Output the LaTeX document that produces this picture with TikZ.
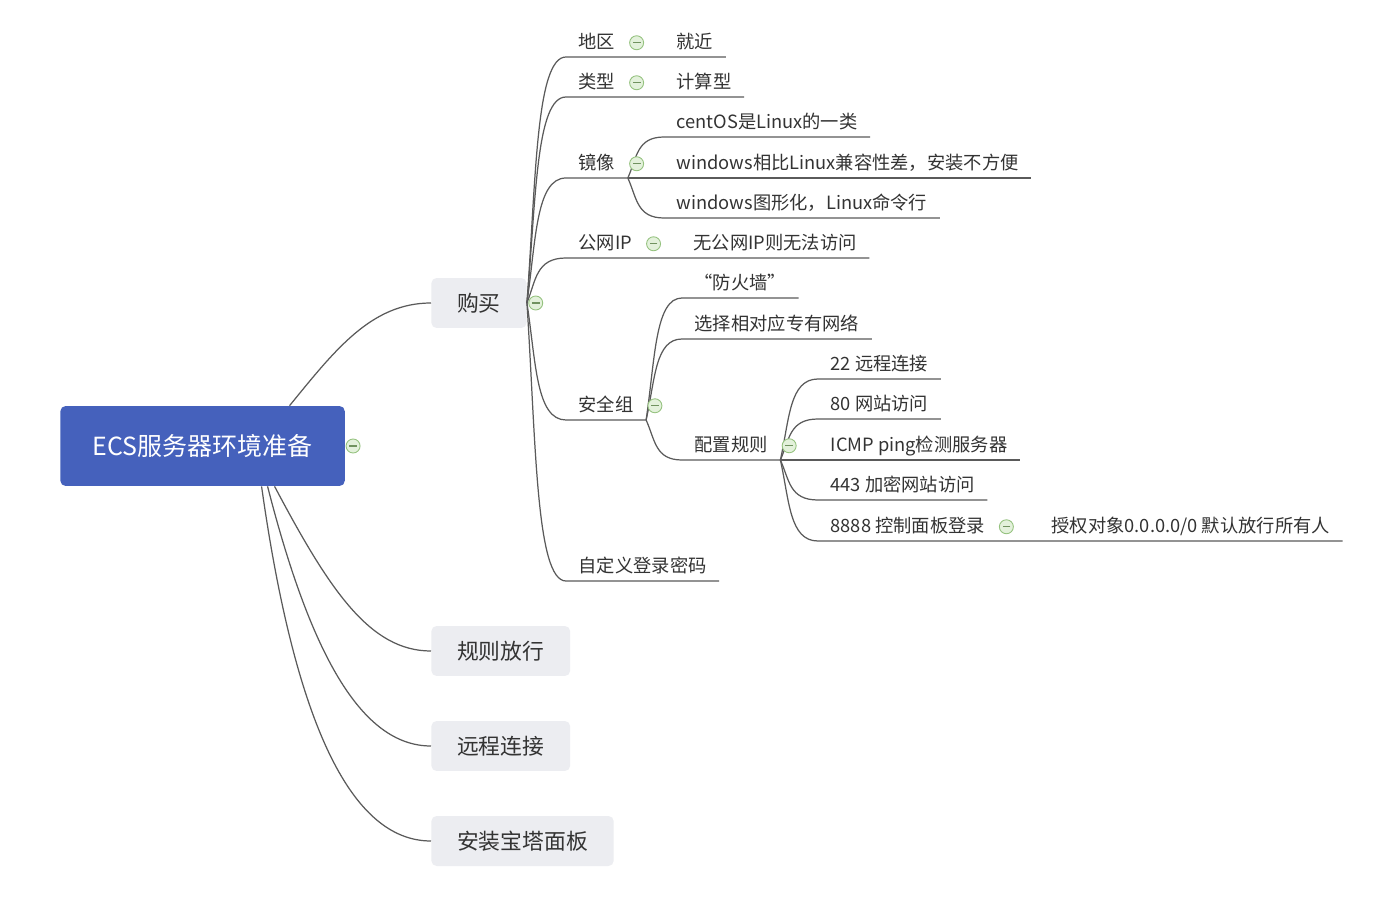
\documentclass[tikz,border=0pt]{standalone}
\usepackage{fontspec}
\setmainfont{Noto Sans CJK SC}
\usetikzlibrary{calc,positioning}
\definecolor{rootblue}{HTML}{4561BC}
\definecolor{boxgray}{HTML}{ECEDF1}
\definecolor{lngray}{HTML}{5A5A5A}
\definecolor{txgray}{HTML}{333333}
\definecolor{clfill}{HTML}{E3F1DB}
\definecolor{cldraw}{HTML}{95C27F}

\begin{document}
\begin{tikzpicture}[x=0.02cm,y=-0.02cm,
 ln/.style={draw=lngray,line width=0.7pt},
 br/.style={ln,to path={.. controls ($(\tikztostart)!0.5!(\tikztostart|-\tikztotarget)+(9,0)$) and ($(\tikztostart|-\tikztotarget)+(9,0)$) .. (\tikztotarget)}},
 root/.style={fill=rootblue,text=white,rounded corners=3pt,anchor=west,inner xsep=18.5pt,minimum height=1.6cm,font=\fontsize{14.2}{16}\selectfont},
 main/.style={fill=boxgray,text=txgray,rounded corners=3pt,anchor=west,inner xsep=14.7pt,minimum height=1cm,font=\fontsize{12.4}{14}\selectfont},
 tp/.style={anchor=south west,inner xsep=7pt,inner ysep=2.8pt,text height=0.82em,text depth=0.2em,text=txgray,font=\fontsize{10.4}{12}\selectfont},
 cl/.style={circle,draw=cldraw,fill=clfill,line width=0.5pt,minimum size=0.28cm,inner sep=0pt,
  path picture={\draw[cldraw!75!black,line width=0.6pt] ([xshift=2.2pt]path picture bounding box.center) -- ([xshift=-2.2pt]path picture bounding box.center);}}]
\fill[white] (0,0) rectangle (1400,902);
\useasboundingbox (0,0) rectangle (1400,902);

\node[root] (ecs) at (60,446) {ECS服务器环境准备};
\node[main] (gm) at (431,303) {购买};
\node[main] (gz) at (431,651) {规则放行};
\node[main] (yc) at (431,746) {远程连接};
\node[main] (bt) at (431,841) {安装宝塔面板};

\node[tp] (dq) at (566,57) {地区};
\node[tp] (jj) at (664,57) {就近};
\node[tp] (lx) at (566,97) {类型};
\node[tp] (js) at (664,97) {计算型};
\node[tp] (jx) at (566,178) {镜像};
\node[tp] (co) at (664,137) {centOS是Linux的一类};
\node[tp] (wj) at (664,178) {windows相比Linux兼容性差，安装不方便};
\node[tp] (wt) at (664,218) {windows图形化，Linux命令行};
\node[tp] (gw) at (566,258) {公网IP};
\node[tp] (wg) at (681,258) {无公网IP则无法访问};
\node[tp] (aq) at (566,420) {安全组};
\node[tp] (fh) at (682,298) {“防火墙”};
\node[tp] (xz) at (682,339) {选择相对应专有网络};
\node[tp] (pz) at (682,460) {配置规则};
\node[tp] (r22) at (818,379) {22 远程连接};
\node[tp] (r80) at (818,419) {80 网站访问};
\node[tp] (ric) at (818,460) {ICMP ping检测服务器};
\node[tp] (r443) at (818,500) {443 加密网站访问};
\node[tp] (r88) at (818,541) {8888 控制面板登录};
\node[tp] (sq) at (1039,541) {授权对象0.0.0.0/0 默认放行所有人};
\node[tp] (zd) at (566,581) {自定义登录密码};

\draw[ln] ([xshift=1.74cm]ecs.north) .. controls +(45,-55) and +(-60,0) .. (gm.west);
\draw[ln] ([xshift=1.44cm]ecs.south) .. controls +(55,104) and +(-61,0) .. (gz.west);
\draw[ln] ([xshift=1.3cm]ecs.south) .. controls +(42,164) and +(-71,0) .. (yc.west);
\draw[ln] ([xshift=1.18cm]ecs.south) .. controls +(33,234) and +(-81,0) .. (bt.west);

\draw[br] (gm.east) to (dq.south west) -- (dq.south east) -- (jj.south east);
\draw[br] (gm.east) to (lx.south west) -- (lx.south east) -- (js.south east);
\draw[br] (gm.east) to (jx.south west) -- (jx.south east);
\draw[br] (gm.east) to (gw.south west) -- (gw.south east) -- (wg.south east);
\draw[br] (gm.east) to (aq.south west) -- (aq.south east);
\draw[br] (gm.east) to (zd.south west) -- (zd.south east);
\draw[br] (jx.south east) to (co.south west) -- (co.south east);
\draw[br] (jx.south east) to (wj.south west) -- (wj.south east);
\draw[br] (jx.south east) to (wt.south west) -- (wt.south east);
\draw[br] (aq.south east) to (fh.south west) -- (fh.south east);
\draw[br] (aq.south east) to (xz.south west) -- (xz.south east);
\draw[br] (aq.south east) to (pz.south west) -- (pz.south east);
\draw[br] (pz.south east) to (r22.south west) -- (r22.south east);
\draw[br] (pz.south east) to (r80.south west) -- (r80.south east);
\draw[br] (pz.south east) to (ric.south west) -- (ric.south east);
\draw[br] (pz.south east) to (r443.south west) -- (r443.south east);
\draw[br] (pz.south east) to (r88.south west) -- (r88.south east) -- (sq.south east);

\node[cl] at ([xshift=4.5pt]ecs.east) {};
\node[cl] at ([xshift=5pt]gm.east) {};
\node[cl] at ([xshift=5pt]dq.east) {};
\node[cl] at ([xshift=5pt]lx.east) {};
\node[cl] at ([xshift=5pt]jx.east) {};
\node[cl] at ([xshift=5pt]gw.east) {};
\node[cl] at ([xshift=5pt]aq.east) {};
\node[cl] at ([xshift=5pt]pz.east) {};
\node[cl] at ([xshift=5pt]r88.east) {};
\end{tikzpicture}
\end{document}
